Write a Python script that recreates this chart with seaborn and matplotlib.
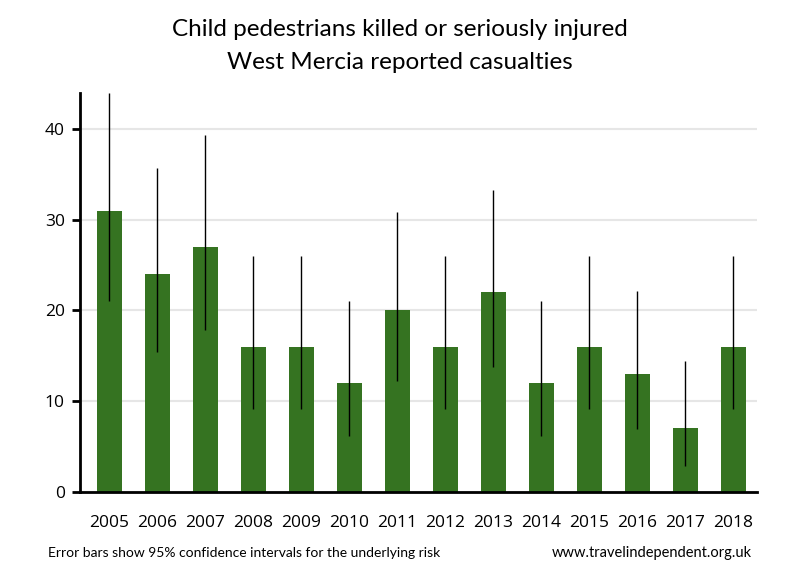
import seaborn as sns
import matplotlib.pyplot as plt
import pandas as pd

sns.set_theme(style="white")
plt.rcParams['font.family'] = ['Open Sans', 'DejaVu Sans']
plt.rcParams['text.color'] = 'black'
plt.rcParams['xtick.color'] = 'black'
plt.rcParams['ytick.color'] = 'black'

# data
years = ['2005', '2006', '2007', '2008', '2009', '2010', '2011',
         '2012', '2013', '2014', '2015', '2016', '2017', '2018']
casualties = [31, 24, 27, 16, 16, 12, 20, 16, 22, 12, 16, 13, 7, 16]
ci_low = [21.0, 15.4, 17.8, 9.1, 9.1, 6.2, 12.2, 9.1, 13.8, 6.2, 9.1, 6.9, 2.8, 9.1]
ci_high = [44.0, 35.7, 39.3, 26.0, 26.0, 21.0, 30.9, 26.0, 33.3, 21.0, 26.0, 22.2, 14.4, 26.0]

df = pd.DataFrame({'Year': years, 'Casualties': casualties,
                   'lo': ci_low, 'hi': ci_high})

fig = plt.figure(figsize=(8, 5.8), dpi=100)
ax = fig.add_axes([0.1, 0.152, 0.846, 0.688])

ax.yaxis.grid(True, color='#e6e6e6', linewidth=1.5, zorder=0)
ax.set_axisbelow(True)

sns.barplot(x='Year', y='Casualties', data=df, color='#357321',
            saturation=1, width=0.52, errorbar=None, linewidth=0,
            ax=ax, zorder=2)

# confidence intervals
ax.vlines(range(len(df)), df['lo'], df['hi'], color='black',
          linewidth=1, zorder=3)

ax.set_ylim(0, 44)
ax.set_xlim(-0.61, 13.49)
ax.set_yticks([0, 10, 20, 30, 40])
ax.set_xlabel('')
ax.set_ylabel('')

for side in ['top', 'right']:
    ax.spines[side].set_visible(False)
for side in ['left', 'bottom']:
    ax.spines[side].set_color('black')
    ax.spines[side].set_linewidth(2)

ax.tick_params(axis='y', length=6, width=2, color='black', labelsize=12.5,
               labelcolor='black', left=True, pad=5)
ax.tick_params(axis='x', length=0, labelsize=12.5, labelcolor='black', pad=17)

fig.text(0.5, 0.949, 'Child pedestrians killed or seriously injured',
         ha='center', va='center', fontsize=17.5, color='black',
         family=['Lato', 'DejaVu Sans'])
fig.text(0.5, 0.893, 'West Mercia reported casualties',
         ha='center', va='center', fontsize=17.5, color='black',
         family=['Lato', 'DejaVu Sans'])

fig.text(0.06, 0.047, 'Error bars show 95% confidence intervals for the underlying risk',
         ha='left', va='center', fontsize=10, color='black',
         family=['Lato', 'DejaVu Sans'])
fig.text(0.94, 0.047, 'www.travelindependent.org.uk',
         ha='right', va='center', fontsize=10.5, color='black',
         family=['Lato', 'DejaVu Sans'])

plt.savefig('out.png', dpi=100)
plt.close()
